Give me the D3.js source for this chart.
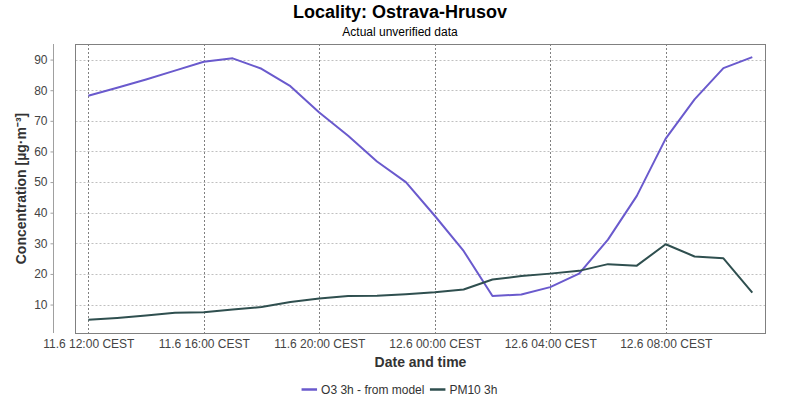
<!DOCTYPE html>
<html>
<head>
<meta charset="utf-8">
<script src="https://cdn.jsdelivr.net/npm/d3@7/dist/d3.min.js"></script>
<style>
  html, body { margin: 0; padding: 0; background: #fff; }
  svg { display: block; font-family: "Liberation Sans", Arial, sans-serif; }
</style>
</head>
<body>
<svg id="chart" width="800" height="400"></svg>
<script>
// ---- data ----
const times = [
  "11.6 12:00","11.6 13:00","11.6 14:00","11.6 15:00","11.6 16:00","11.6 17:00",
  "11.6 18:00","11.6 19:00","11.6 20:00","11.6 21:00","11.6 22:00","11.6 23:00",
  "12.6 00:00","12.6 01:00","12.6 02:00","12.6 03:00","12.6 04:00","12.6 05:00",
  "12.6 06:00","12.6 07:00","12.6 08:00","12.6 09:00","12.6 10:00","12.6 11:00"
];
const o3 = [78.2, 80.8, 83.5, 86.4, 89.3, 90.4, 87.0, 81.3, 72.7, 65.1, 56.7, 50.0,
            39.0, 27.5, 12.8, 13.3, 15.7, 20.1, 31.2, 45.5, 64.2, 77.0, 87.2, 90.8];
const pm10 = [5.0, 5.6, 6.4, 7.3, 7.5, 8.4, 9.2, 10.8, 12.0, 12.8, 12.9, 13.4,
              14.0, 14.9, 18.2, 19.3, 20.1, 21.0, 23.2, 22.7, 29.7, 25.7, 25.1, 13.9];
const xTickLabels = ["11.6 12:00 CEST","11.6 16:00 CEST","11.6 20:00 CEST",
                     "12.6 00:00 CEST","12.6 04:00 CEST","12.6 08:00 CEST"];
const yTicks = [10, 20, 30, 40, 50, 60, 70, 80, 90];
const seriesNames = ["O3 3h - from model", "PM10 3h"];
const titleText = "Locality: Ostrava-Hrusov";
const subtitleText = "Actual unverified data";
const xTitle = "Date and time";
const yTitle = "Concentration [µg·m⁻³]";

// ---- layout ----
const parse = d3.timeParse("%d.%m %H:%M");
const dates = times.map(parse);
const plot = { left: 75.5, right: 765.5, top: 44, bottom: 333 };
const colors = ["#6a5acd", "#2f4f4f"];

const svg = d3.select("#chart");

const x = d3.scaleTime()
  .domain([dates[0], dates[dates.length - 1]])
  .range([88.3, 752.3]);
const yMin = d3.min(pm10.concat(o3)), yMax = d3.max(pm10.concat(o3));
const pad = (yMax - yMin) * 0.05;
const y = d3.scaleLinear().domain([yMin - pad, yMax + pad]).range([plot.bottom, plot.top]);

// Title
svg.append("text").attr("x", 400).attr("y", 17.5).attr("text-anchor", "middle")
  .attr("font-size", 18).attr("font-weight", "bold").attr("fill", "#000").text(titleText);
svg.append("text").attr("x", 400).attr("y", 36).attr("text-anchor", "middle")
  .attr("font-size", 12).attr("fill", "#000").text(subtitleText);

// Gridlines
const xTickDates = xTickLabels.map(s => parse(s.replace(" CEST", "")));
const g = svg.append("g");
g.selectAll("line.hg").data(yTicks).join("line")
  .attr("x1", plot.left).attr("x2", plot.right)
  .attr("y1", d => Math.round(y(d)) + 0.5).attr("y2", d => Math.round(y(d)) + 0.5)
  .attr("stroke", "#c0c0c0").attr("stroke-width", 1).attr("stroke-dasharray", "2,2");
g.selectAll("line.vg").data(xTickDates).join("line")
  .attr("x1", d => Math.round(x(d)) + 0.5).attr("x2", d => Math.round(x(d)) + 0.5)
  .attr("y1", plot.top).attr("y2", plot.bottom)
  .attr("stroke", "#808080").attr("stroke-width", 1).attr("stroke-dasharray", "2,2");

// Plot border
svg.append("rect").attr("x", plot.left).attr("y", plot.top + 0.5)
  .attr("width", plot.right - plot.left).attr("height", plot.bottom - plot.top)
  .attr("fill", "none").attr("stroke", "#808080").attr("stroke-width", 1);

// Y axis (offset to left of plot)
const yAxis = d3.axisLeft(y).tickValues(yTicks).tickSize(3).tickPadding(3);
const ya = svg.append("g").attr("transform", "translate(53.5,0)").call(yAxis);
ya.select(".domain").attr("stroke", "#a0a0a0").attr("d", `M0,${plot.top}V${plot.bottom}`);
ya.selectAll(".tick line").attr("stroke", "#a0a0a0");
ya.selectAll(".tick text").attr("font-size", 12).attr("fill", "#444")
  .attr("font-family", "'Liberation Sans', Arial, sans-serif");

// X axis labels
const xAxis = d3.axisBottom(x).tickValues(xTickDates).tickSize(0).tickPadding(0)
  .tickFormat((d, i) => xTickLabels[i]);
const xa = svg.append("g").attr("transform", `translate(0,${plot.bottom})`).call(xAxis);
xa.select(".domain").remove();
xa.selectAll(".tick text").attr("font-size", 12).attr("fill", "#444")
  .attr("dy", null).attr("y", 15.3)
  .attr("font-family", "'Liberation Sans', Arial, sans-serif");

// Axis titles
svg.append("text").attr("x", (plot.left + plot.right) / 2).attr("y", 367)
  .attr("text-anchor", "middle").attr("font-size", 14).attr("font-weight", "bold")
  .attr("fill", "#333").text(xTitle);
svg.append("text").attr("transform", `translate(25.5,${(plot.top + plot.bottom) / 2}) rotate(-90)`)
  .attr("text-anchor", "middle").attr("font-size", 14).attr("font-weight", "bold")
  .attr("fill", "#333").text(yTitle);

// Lines
const line = d3.line().x((d, i) => x(dates[i])).y(d => y(d));
const clip = svg.append("clipPath").attr("id", "clip").append("rect")
  .attr("x", plot.left).attr("y", plot.top).attr("width", plot.right - plot.left)
  .attr("height", plot.bottom - plot.top);
[o3, pm10].forEach((s, k) => {
  svg.append("path").datum(s).attr("d", line).attr("fill", "none")
    .attr("stroke", colors[k]).attr("stroke-width", 2).attr("stroke-linejoin", "round")
    .attr("clip-path", "url(#clip)");
});

// Legend
const lg = svg.append("g");
const items = lg.selectAll("g").data(seriesNames).join("g");
items.append("line").attr("x1", 0).attr("x2", 15.5).attr("y1", 0).attr("y2", 0)
  .attr("stroke", (d, i) => colors[i]).attr("stroke-width", 2.5);
items.append("text").attr("x", 19.5).attr("y", 4.5).attr("font-size", 12)
  .attr("fill", "#333").text(d => d);
let cx = 0;
const widths = [];
items.each(function () { widths.push(this.getBBox().width); });
const gap = 5.5;
const total = d3.sum(widths) + gap * (widths.length - 1);
let start = 399.5 - total / 2;
items.attr("transform", (d, i) => {
  const t = `translate(${start},389.5)`;
  start += widths[i] + gap;
  return t;
});
</script>
</body>
</html>
